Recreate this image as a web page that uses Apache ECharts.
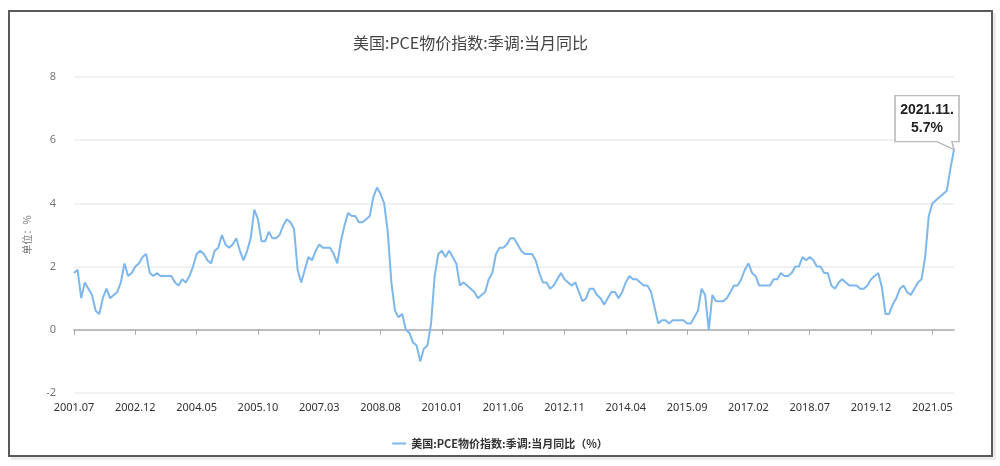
<!DOCTYPE html>
<html>

<head>
    <meta charset="utf-8">
    <style>
        html, body { margin: 0; padding: 0; background: #fff; }
        #frame {
            position: absolute; left: 8px; top: 10px; width: 981px; height: 443px;
            border: 2px solid #5a5a5a; box-shadow: 3px 3px 0 #ececec;
        }
        #container { position: absolute; left: 0; top: 0; width: 1000px; height: 466px; }
    </style>
</head>

<body>
    <div id="frame"></div>
    <div id="container"></div>
    <script type="text/javascript" src="https://cdn.jsdelivr.net/npm/echarts@6/dist/echarts.min.js"></script>
    <script type="text/javascript">
        // 月份: 2001.07 - 2021.11
        var months = [];
        for (var y = 2001, m = 7; y < 2021 || (y === 2021 && m <= 11); m++) {
            if (m > 12) { m = 1; y++; }
            months.push(y + '.' + (m < 10 ? '0' + m : m));
        }

        var seriesName = '美国:PCE物价指数:季调:当月同比（%）';

        // 2001.07 - 2004.11
        var pce1 = [1.8, 1.9, 1.0, 1.5, 1.3, 1.1, 0.6, 0.5, 1.0, 1.3,
            1.0, 1.1, 1.2, 1.5, 2.1, 1.7, 1.8, 2.0, 2.1, 2.3,
            2.4, 1.8, 1.7, 1.8, 1.7, 1.7, 1.7, 1.7, 1.5, 1.4,
            1.6, 1.5, 1.7, 2.0, 2.4, 2.5, 2.4, 2.2, 2.1, 2.5, 2.6];
        // 2004.12 - 2008.03
        var pce2 = [3.0, 2.7, 2.6, 2.7, 2.9, 2.5, 2.2, 2.5, 2.9, 3.8,
            3.5, 2.8, 2.8, 3.1, 2.9, 2.9, 3.0, 3.3, 3.5, 3.4,
            3.2, 1.9, 1.5, 1.9, 2.3, 2.2, 2.5, 2.7, 2.6, 2.6,
            2.6, 2.4, 2.1, 2.8, 3.3, 3.7, 3.6, 3.6, 3.4, 3.4];
        // 2008.04 - 2011.06
        var pce3 = [3.5, 3.6, 4.2, 4.5, 4.3, 4.0, 3.1, 1.5, 0.6, 0.4,
            0.5, 0.0, -0.1, -0.4, -0.5, -1.0, -0.6, -0.5, 0.2, 1.7,
            2.4, 2.5, 2.3, 2.5, 2.3, 2.1, 1.4, 1.5, 1.4, 1.3,
            1.2, 1.0, 1.1, 1.2, 1.6, 1.8, 2.4, 2.6, 2.6];
        // 2011.07 - 2014.11
        var pce4 = [2.7, 2.9, 2.9, 2.7, 2.5, 2.4, 2.4, 2.4, 2.2, 1.8,
            1.5, 1.5, 1.3, 1.4, 1.6, 1.8, 1.6, 1.5, 1.4, 1.5,
            1.2, 0.9, 1.0, 1.3, 1.3, 1.1, 1.0, 0.8, 1.0, 1.2,
            1.2, 1.0, 1.2, 1.5, 1.7, 1.6, 1.6, 1.5, 1.4, 1.4, 1.2];
        // 2014.12 - 2018.03
        var pce5 = [0.7, 0.2, 0.3, 0.3, 0.2, 0.3, 0.3, 0.3, 0.3, 0.2,
            0.2, 0.4, 0.6, 1.3, 1.1, 0.0, 1.1, 0.9, 0.9, 0.9,
            1.0, 1.2, 1.4, 1.4, 1.6, 1.9, 2.1, 1.8, 1.7, 1.4,
            1.4, 1.4, 1.4, 1.6, 1.6, 1.8, 1.7, 1.7, 1.8, 2.0];
        // 2018.04 - 2021.11
        var pce6 = [2.0, 2.3, 2.2, 2.3, 2.2, 2.0, 2.0, 1.8, 1.8, 1.4,
            1.3, 1.5, 1.6, 1.5, 1.4, 1.4, 1.4, 1.3, 1.3, 1.4,
            1.6, 1.7, 1.8, 1.35, 0.5, 0.5, 0.8, 1.0, 1.3, 1.4,
            1.2, 1.1, 1.3, 1.5, 1.6, 2.3, 3.6, 4.0, 4.1, 4.2,
            4.3, 4.4, 5.1, 5.7];

        var pce = [].concat(pce1, pce2, pce3, pce4, pce5, pce6);
        var lastIdx = pce.length - 1;

        var dom = document.getElementById("container");
        var myChart = echarts.init(dom);
        var option = {
            animation: false,
            title: {
                text: '美国:PCE物价指数:季调:当月同比',
                left: 348,
                top: 30,
                textStyle: {
                    fontFamily: 'Noto Sans CJK SC',
                    fontSize: 16,
                    fontWeight: 'normal',
                    color: '#444'
                }
            },
            legend: {
                bottom: 12,
                left: 'center',
                itemWidth: 14,
                itemHeight: 2,
                icon: 'rect',
                textStyle: {
                    fontFamily: 'Noto Sans CJK SC',
                    fontSize: 11,
                    fontWeight: 'bold',
                    color: '#333'
                },
                data: [seriesName]
            },
            grid: {
                left: 74,
                right: 46,
                top: 77,
                bottom: 73
            },
            xAxis: {
                type: 'category',
                boundaryGap: false,
                data: months,
                axisLine: { lineStyle: { color: '#aaa', width: 1.5 } },
                axisTick: { show: true, interval: 16, length: 5, lineStyle: { color: '#aaa' } },
                axisLabel: {
                    interval: 16,
                    margin: 9,
                    fontFamily: 'Noto Sans',
                    fontSize: 11,
                    color: '#333'
                }
            },
            yAxis: {
                type: 'value',
                min: -2,
                max: 8,
                interval: 2,
                name: '单位：%',
                nameLocation: 'middle',
                nameRotate: 90,
                nameGap: 42,
                nameTextStyle: { fontFamily: 'Noto Sans CJK SC', fontSize: 10, color: '#777' },
                axisLine: { show: false },
                axisTick: { show: false },
                axisLabel: { margin: 18, fontFamily: 'Noto Sans', fontSize: 11, color: '#777' },
                splitLine: { lineStyle: { color: '#ececec', width: 1.5 } }
            },
            series: [{
                name: seriesName,
                type: 'line',
                data: pce,
                symbol: 'none',
                lineStyle: { color: '#7db7ec', width: 2 },
                itemStyle: { color: '#7db7ec' },
                markPoint: {
                    symbol: 'path://M0 0 H64 V46 H57 L59 54 L42 46 H0 Z',
                    symbolKeepAspect: false,
                    symbolSize: [64, 54],
                    symbolOffset: [-27, -27],
                    itemStyle: { color: '#fff', borderColor: '#bbb', borderWidth: 1.5 },
                    label: {
                        show: true,
                        position: 'inside',
                        offset: [0, -4],
                        formatter: '{b}.\n{c}%',
                        fontFamily: 'Liberation Sans',
                        fontSize: 14,
                        fontWeight: 'bold',
                        lineHeight: 18,
                        color: '#222'
                    },
                    data: [{
                        name: months[lastIdx],
                        coord: [lastIdx, pce[lastIdx]],
                        value: pce[lastIdx]
                    }]
                }
            }]
        };
        myChart.setOption(option);
    </script>
</body>

</html>
